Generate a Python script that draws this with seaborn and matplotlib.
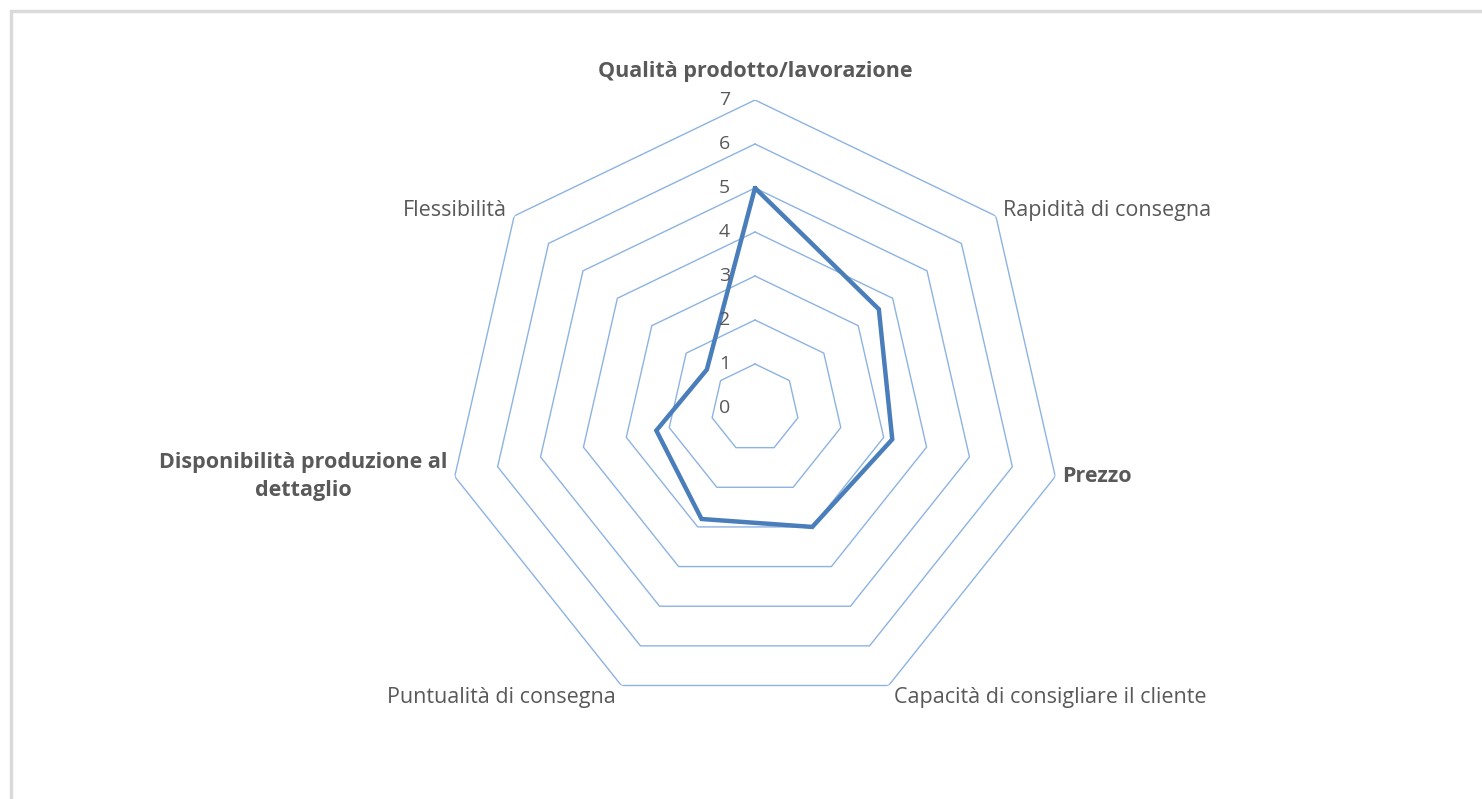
import numpy as np
import matplotlib
matplotlib.use('Agg')
import matplotlib.pyplot as plt
import seaborn as sns
from matplotlib.lines import Line2D

# Data
categories = ['Qualità prodotto/lavorazione', 'Rapidità di consegna', 'Prezzo',
              'Capacità di consigliare il cliente', 'Puntualità di consegna',
              'Disponibilità produzione al\ndettaglio', 'Flessibilità']
label_weights = ['bold', 'normal', 'bold', 'normal', 'normal', 'bold', 'normal']
values = [5.0, 3.6, 3.2, 3.0, 2.8, 2.3, 1.4]
rings = [1, 2, 3, 4, 5, 6, 7]
tick_labels = ['0', '1', '2', '3', '4', '5', '6', '7']

sns.set_style('white')
plt.rcParams['font.family'] = ['Open Sans', 'DejaVu Sans']

text_col = '#595959'
grid_col = '#8db3e2'
line_col = '#4a7ebb'

fig = plt.figure(figsize=(14.82, 7.99), dpi=100)

# light gray screenshot border (top and left)
fig.add_artist(Line2D([11 / 1482, 1.0], [1 - 11 / 799, 1 - 11 / 799], color='#dadada', lw=2.5,
                      transform=fig.transFigure))
fig.add_artist(Line2D([11 / 1482, 11 / 1482], [0, 1 - 11 / 799], color='#dadada', lw=2.5,
                      transform=fig.transFigure))

ax = fig.add_axes([447 / 1482, (391 - 308) / 799, 616 / 1482, 616 / 799], projection='polar')
ax.set_theta_zero_location('N')
ax.set_theta_direction(-1)

n = len(categories)
angles = np.linspace(0, 2 * np.pi, n, endpoint=False)
closed = np.append(angles, angles[0])

# heptagon grid
for r in rings:
    ax.plot(closed, [r] * (n + 1), color=grid_col, lw=1.0, zorder=1)

# data series
vals = values + values[:1]
ax.plot(closed, vals, color=line_col, lw=3.2, solid_joinstyle='miter', zorder=3)

ax.set_ylim(0, 7)
ax.set_xticks([])
ax.set_yticks([])
ax.grid(False)
ax.spines['polar'].set_visible(False)
ax.set_facecolor('none')

# radial tick labels
for i, t in enumerate(tick_labels):
    ax.annotate(t, xy=(0, i), xytext=(-18, 0), textcoords='offset points',
                ha='right', va='center', fontsize=14, color=text_col)

# category labels
for ang, lab, w in zip(angles, categories, label_weights):
    s, c = np.sin(ang), np.cos(ang)
    if abs(s) < 0.1:
        ha = 'center'
    elif s > 0:
        ha = 'left'
    else:
        ha = 'right'
    if c > 0.9:
        va, dx, dy = 'bottom', 0, 13
    elif c < -0.5:
        va, dx, dy = 'top', 4 * np.sign(s), -1
    else:
        va, dx, dy = 'center', 5 * np.sign(s), 4 if c > 0 else 0
    ax.annotate(lab, xy=(ang, 7), xytext=(dx, dy), textcoords='offset points',
                ha=ha, va=va, fontsize=15.5, color=text_col, fontweight=w,
                multialignment='center', linespacing=1.45)

fig.savefig('out.png', dpi=100, facecolor='white')
